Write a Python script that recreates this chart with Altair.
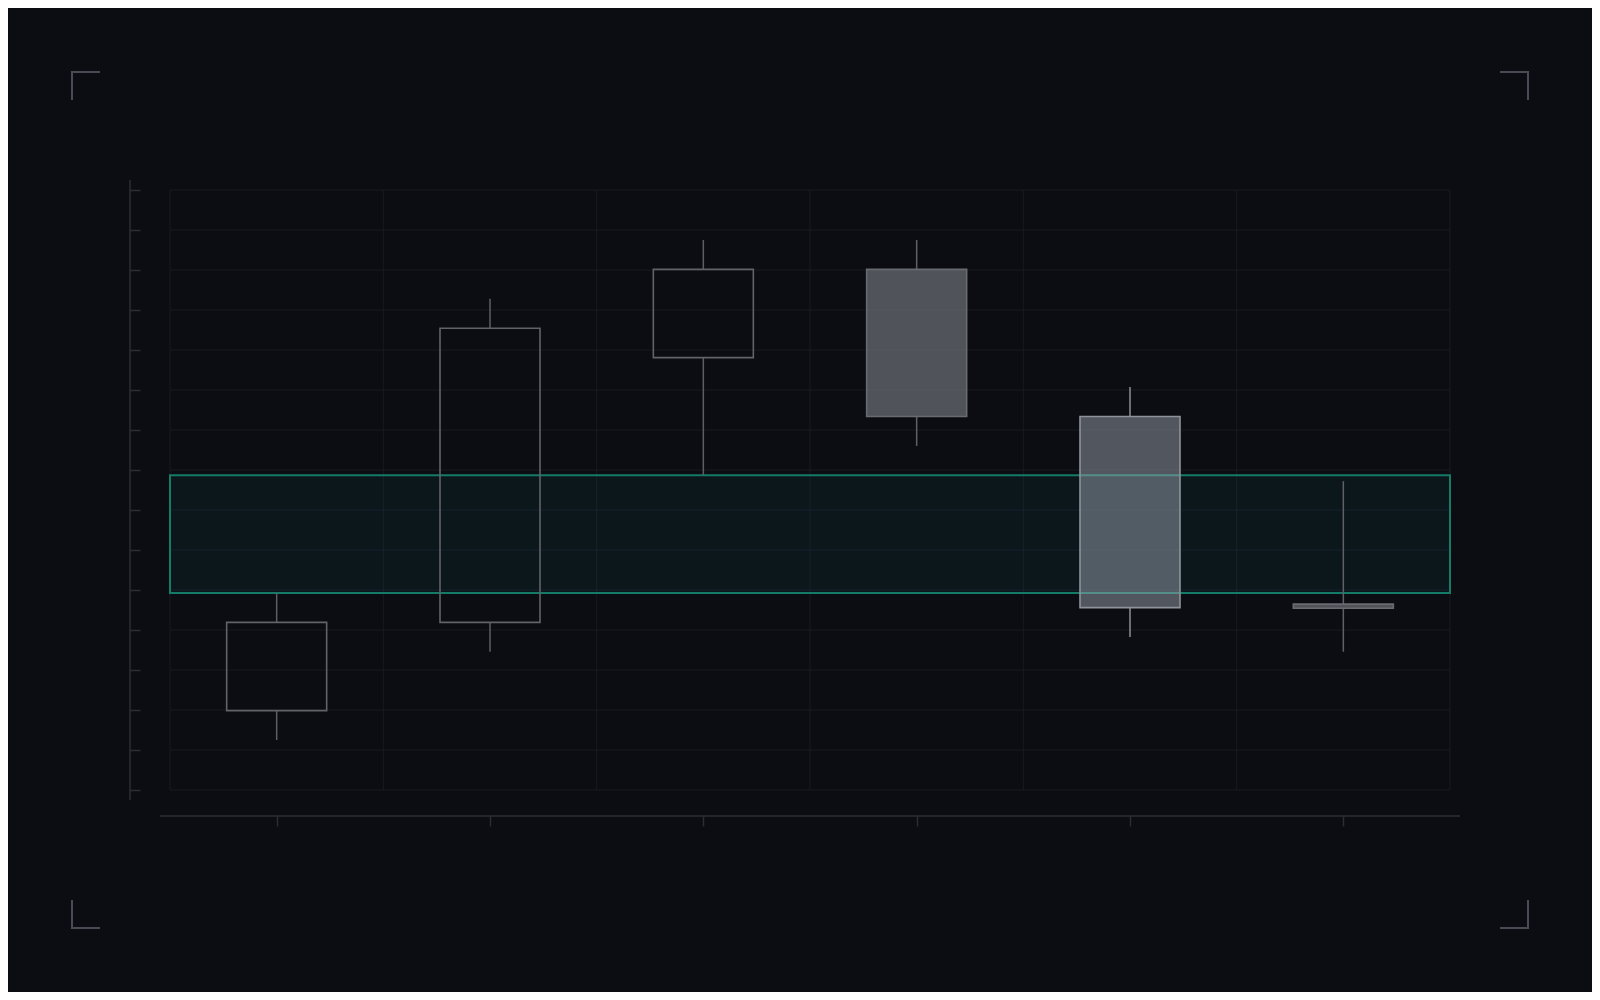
import altair as alt
import pandas as pd
import numpy as np

# ---------------- data ----------------
candle_index = [0, 1, 2, 3, 4, 5]
open_values = [104.0, 107.0, 116.0, 119.0, 114.0, 107.62]
high_values = [108.0, 118.0, 120.0, 120.0, 115.0, 111.8]
low_values = [103.0, 106.0, 112.0, 113.0, 106.5, 106.0]
close_values = [107.0, 117.0, 119.0, 114.0, 107.5, 107.48]
candle_kind = ["up", "up", "up", "down", "focus", "down"]

zone_low = [108.0]
zone_high = [112.0]

# ---------------- styles ----------------
BG = "#0c0d12"
GRID = "#171a20"
AXIS = "#2a2e36"
BRACKET = "#464b55"
KINDS = ["up", "down", "focus"]
WICK_COLORS = ["#5c5f65", "#5e6167", "#8a8f97"]
BODY_STROKES = ["#606369", "#686b71", "#8e939b"]
BODY_FILLS = ["rgba(0,0,0,0)", "rgba(148,153,160,0.5)", "rgba(152,161,172,0.5)"]

W, H = 1280, 600

# ---------------- tables ----------------
df = pd.DataFrame({
    "idx": candle_index,
    "open": open_values,
    "high": high_values,
    "low": low_values,
    "close": close_values,
    "kind": candle_kind,
})
df["body_top"] = df[["open", "close"]].max(axis=1)
df["body_bot"] = df[["open", "close"]].min(axis=1)

lo, hi = min(low_values), max(high_values)
pad = 0.1 * (hi - lo)
y_domain = [lo - pad, hi + pad]
x_domain = [candle_index[0] - 0.5, candle_index[-1] + 0.5]

y_ticks = [float(v) for v in np.linspace(y_domain[0], y_domain[1], 16)]
x_grid = [x_domain[0] + k for k in range(len(candle_index) + 1)]

XS = alt.Scale(domain=x_domain, nice=False, zero=False, padding=0)
YS = alt.Scale(domain=y_domain, nice=False, zero=False, padding=0)

XAX = alt.Axis(values=candle_index, offset=26, domain=False, ticks=True, tickSize=10,
               tickColor=AXIS, tickWidth=1.5, labels=False, grid=False, title=None)
YAX = alt.Axis(values=y_ticks, offset=30, domain=False, ticks=True, tickSize=10,
               tickColor=AXIS, tickWidth=1.5, labels=False, grid=False, title=None)

vgrid = alt.Chart(pd.DataFrame({"gx": x_grid})).mark_rule(color=GRID, strokeWidth=1).encode(
    x=alt.X("gx:Q", scale=XS, axis=XAX)
)
hgrid = alt.Chart(pd.DataFrame({"gy": y_ticks})).mark_rule(color=GRID, strokeWidth=1).encode(
    y=alt.Y("gy:Q", scale=YS, axis=YAX)
)

zone = alt.Chart(pd.DataFrame({"x0": [x_domain[0]], "x1": [x_domain[1]],
                               "lo": zone_low, "hi": zone_high})).mark_rect(
    fill="#0ea5b8", fillOpacity=0.065, stroke="#15846e", strokeOpacity=0.92, strokeWidth=2
).encode(
    x=alt.X("x0:Q", scale=XS, axis=XAX), x2="x1:Q",
    y=alt.Y("lo:Q", scale=YS, axis=YAX), y2="hi:Q",
)

wick_color = alt.Color("kind:N", scale=alt.Scale(domain=KINDS, range=WICK_COLORS), legend=None)

upper_wick = alt.Chart(df).mark_rule(strokeWidth=1.5).encode(
    x=alt.X("idx:Q", scale=XS, axis=XAX),
    y=alt.Y("high:Q", scale=YS, axis=YAX), y2="body_top:Q",
    color=wick_color,
)
lower_wick = alt.Chart(df).mark_rule(strokeWidth=1.5).encode(
    x=alt.X("idx:Q", scale=XS, axis=XAX),
    y=alt.Y("body_bot:Q", scale=YS, axis=YAX), y2="low:Q",
    color=wick_color,
)

bodies = alt.Chart(df).mark_bar(size=100, strokeWidth=1.6, orient="vertical").encode(
    x=alt.X("idx:Q", scale=XS, axis=XAX),
    y=alt.Y("open:Q", scale=YS, axis=YAX), y2="close:Q",
    fill=alt.Fill("kind:N", scale=alt.Scale(domain=KINDS, range=BODY_FILLS), legend=None),
    stroke=alt.Stroke("kind:N", scale=alt.Scale(domain=KINDS, range=BODY_STROKES), legend=None),
)

one = pd.DataFrame({"d": [0]})


def seg(x1, y1, x2, y2, color, width=1.5, cap="butt"):
    return alt.Chart(one).mark_rule(color=color, strokeWidth=width, strokeCap=cap).encode(
        x=alt.value(x1), y=alt.value(y1), x2=alt.value(x2), y2=alt.value(y2)
    )


# extended axis lines
y_line = seg(-40, -10, -40, H + 10, AXIS)
x_line = seg(-10, H + 26, W + 10, H + 26, AXIS)

# corner brackets (page margin 72px, arms 27px), plot origin at page (170,190)
L, T = 72 - 170, 72 - 190
R, B = 1528 - 170, 928 - 190
A = 27
brackets = [
    seg(L, T, L + A, T, BRACKET, 2, "square"), seg(L, T, L, T + A, BRACKET, 2, "square"),
    seg(R, T, R - A, T, BRACKET, 2, "square"), seg(R, T, R, T + A, BRACKET, 2, "square"),
    seg(L, B, L + A, B, BRACKET, 2, "square"), seg(L, B, L, B - A, BRACKET, 2, "square"),
    seg(R, B, R - A, B, BRACKET, 2, "square"), seg(R, B, R, B - A, BRACKET, 2, "square"),
]

chart = alt.layer(
    vgrid, hgrid, zone, upper_wick, lower_wick, bodies, y_line, x_line, *brackets
).properties(
    width=W, height=H,
    padding={"left": 162, "top": 182, "right": 142, "bottom": 202},
    autosize=alt.AutoSizeParams(type="none"),
    background=BG,
).configure_view(stroke="transparent")

chart.save("out.html", embed_options={"renderer": "svg", "actions": False})
